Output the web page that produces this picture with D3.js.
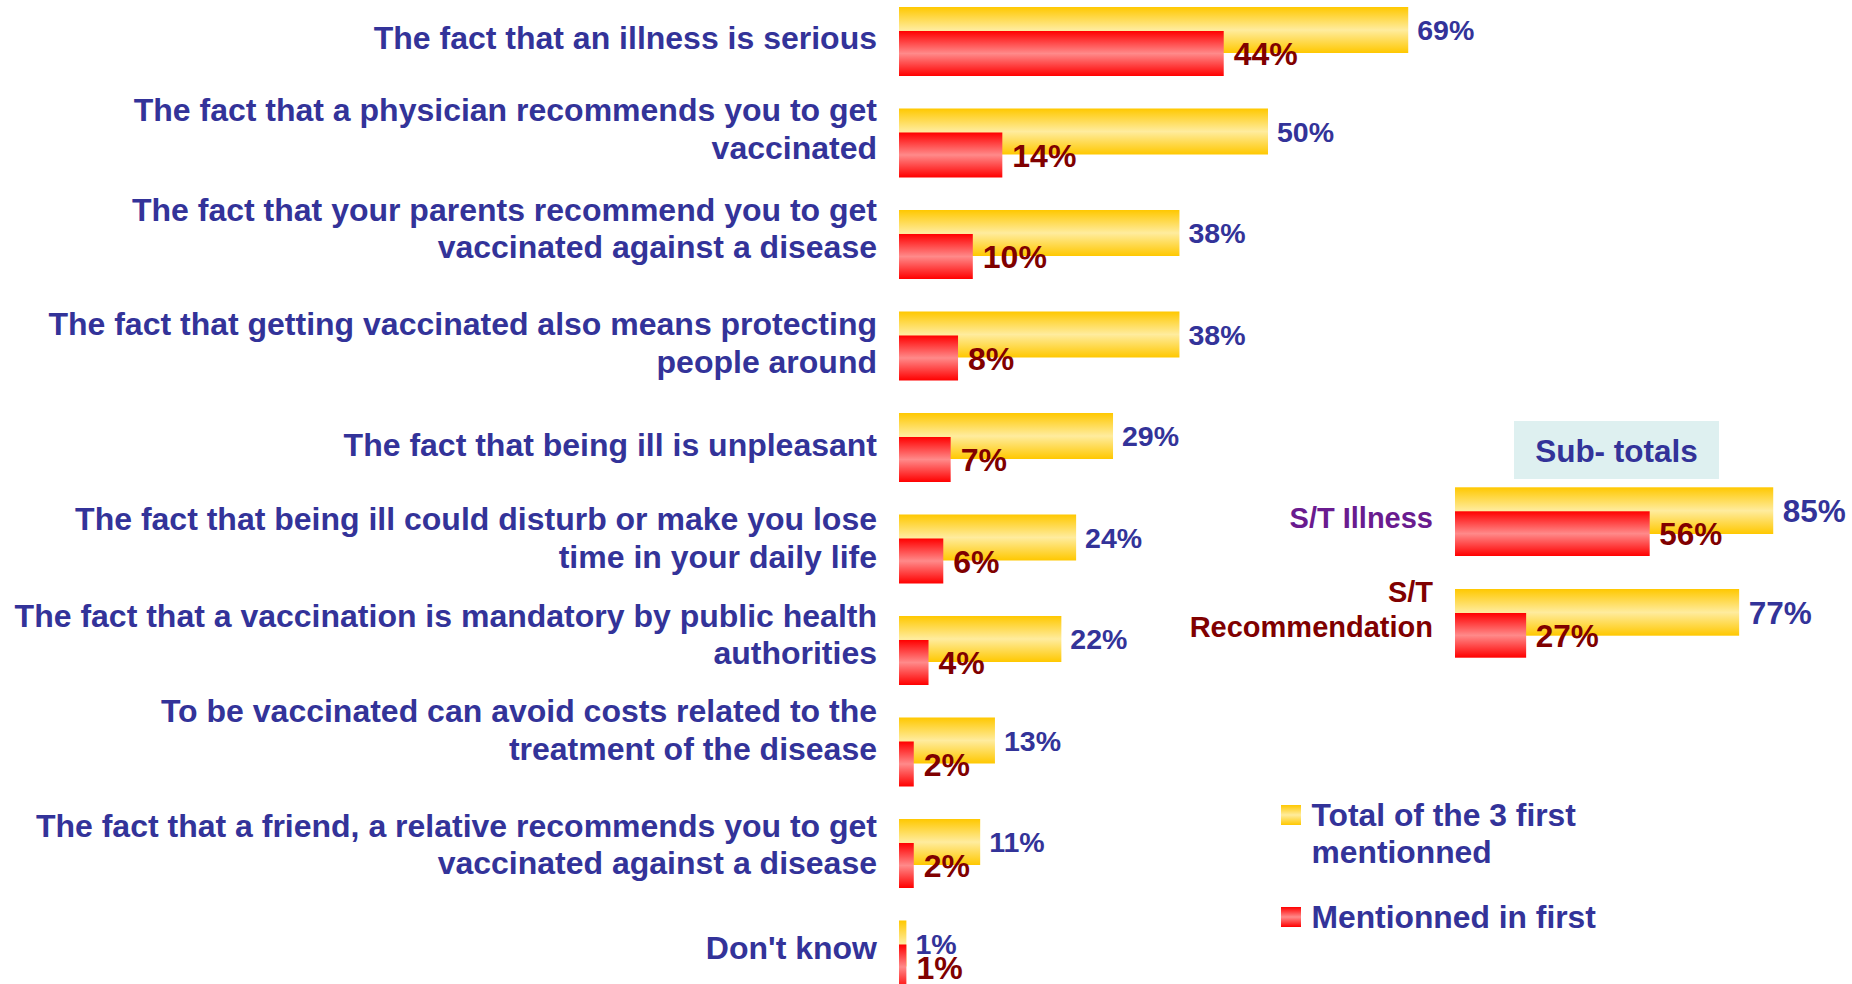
<!DOCTYPE html>
<html><head><meta charset="utf-8">
<script src="https://cdn.jsdelivr.net/npm/d3@7"></script>
<style>html,body{margin:0;padding:0;background:#fff;overflow:hidden}</style>
</head><body>
<svg id="chart" width="1852" height="984"></svg>
<script>
// ---------------- DATA ----------------
const categories = [
  "The fact that an illness is serious",
  "The fact that a physician recommends you to get vaccinated",
  "The fact that your parents recommend you to get vaccinated against a disease",
  "The fact that getting vaccinated also means protecting people around",
  "The fact that being ill is unpleasant",
  "The fact that being ill could disturb or make you lose time in your daily life",
  "The fact that a vaccination is mandatory by public health authorities",
  "To be vaccinated can avoid costs related to the treatment of the disease",
  "The fact that a friend, a relative recommends you to get vaccinated against a disease",
  "Don't know"
];
const categoryLines = [
  ["The fact that an illness is serious"],
  ["The fact that a physician recommends you to get", "vaccinated"],
  ["The fact that your parents recommend you to get", "vaccinated against a disease"],
  ["The fact that getting vaccinated also means protecting", "people around"],
  ["The fact that being ill is unpleasant"],
  ["The fact that being ill could disturb or make you lose", "time in your daily life"],
  ["The fact that a vaccination is mandatory by public health", "authorities"],
  ["To be vaccinated can avoid costs related to the", "treatment of the disease"],
  ["The fact that a friend, a relative recommends you to get", "vaccinated against a disease"],
  ["Don't know"]
];
const totalFirst3 = [69, 50, 38, 38, 29, 24, 22, 13, 11, 1];
const firstMention = [44, 14, 10, 8, 7, 6, 4, 2, 2, 1];

const subCategories = ["S/T Illness", "S/T Recommendation"];
const subCategoryLines = [["S/T Illness"], ["S/T", "Recommendation"]];
const subTotalFirst3 = [85, 77];
const subFirstMention = [56, 27];
const subTitle = "Sub- totals";

const seriesNames = ["Total of the 3 first mentionned", "Mentionned in first"];
const legendLines = [["Total of the 3 first", "mentionned"], ["Mentionned in first"]];

// ---------------- LAYOUT ----------------
const FONT = "'Liberation Sans', Arial, Helvetica, sans-serif";
const BLUE = "#333399", MAROON = "#800000", PURPLE = "#6A1B8F";
// baseline of first label line, relative to the top of the row's yellow bar
const labelOffset = [42, 12.7, 10.7, 23.3, 42.7, 15.7, 10.7, 4.3, 17.7, 38.7];
const subLabelOffset = [40.4, 12.7];
const LINE_H = 37.7;

const svg = d3.select("#chart");
const defs = svg.append("defs");
function grad(id, edge, mid) {
  const g = defs.append("linearGradient").attr("id", id)
    .attr("x1", 0).attr("y1", 0).attr("x2", 0).attr("y2", 1);
  g.append("stop").attr("offset", "0%").attr("stop-color", edge);
  g.append("stop").attr("offset", "50%").attr("stop-color", mid);
  g.append("stop").attr("offset", "100%").attr("stop-color", edge);
}
grad("gYellow", "#FFC800", "#FFEC9E");
grad("gRed", "#FF0000", "#FF8A8A");

const YEL_H = 46, RED_OFF = 24, RED_H = 45;

// ---------- main chart ----------
const x = d3.scaleLinear().domain([0, 100]).range([899, 1637]);
const y = d3.scaleBand().domain(d3.range(categories.length)).range([7, 7 + 101.5 * categories.length]);

const main = svg.append("g");

main.selectAll("rect.tot").data(totalFirst3).join("rect").attr("class", "tot")
  .attr("x", x(0)).attr("y", (d, i) => y(i))
  .attr("width", d => x(d) - x(0)).attr("height", YEL_H)
  .attr("fill", "url(#gYellow)");
main.selectAll("rect.first").data(firstMention).join("rect").attr("class", "first")
  .attr("x", x(0)).attr("y", (d, i) => y(i) + RED_OFF)
  .attr("width", d => x(d) - x(0)).attr("height", RED_H)
  .attr("fill", "url(#gRed)");

main.selectAll("text.totLab").data(totalFirst3).join("text").attr("class", "totLab")
  .attr("x", d => x(d) + 9).attr("y", (d, i) => y(i) + YEL_H / 2).attr("dy", "0.36em")
  .attr("font-family", FONT).attr("font-weight", "bold").attr("font-size", 28.5)
  .attr("fill", BLUE).text(d => d + "%");
main.selectAll("text.firstLab").data(firstMention).join("text").attr("class", "firstLab")
  .attr("x", d => x(d) + 10).attr("y", (d, i) => y(i) + RED_OFF + RED_H / 2).attr("dy", "0.36em")
  .attr("font-family", FONT).attr("font-weight", "bold").attr("font-size", 32)
  .attr("fill", MAROON).text(d => d + "%");

main.selectAll("text.cat").data(categoryLines).join("text").attr("class", "cat")
  .attr("font-family", FONT).attr("font-weight", "bold").attr("font-size", 32)
  .attr("fill", BLUE).attr("text-anchor", "end")
  .each(function (lines, i) {
    const t = d3.select(this);
    lines.forEach((ln, k) => {
      t.append("tspan").attr("x", 877).attr("y", y(i) + labelOffset[i] + k * LINE_H).text(ln);
    });
  });

// ---------- sub-totals ----------
const xs = d3.scaleLinear().domain([10.3, 100]).range([1455, 1455 + 89.7 * 4.26]);
const ys = d3.scaleBand().domain(d3.range(subCategories.length)).range([487.3, 487.3 + 101.7 * subCategories.length]);
const sub = svg.append("g");

sub.append("rect").attr("x", 1514).attr("y", 421).attr("width", 205).attr("height", 58)
  .attr("fill", "#DEF0F0");
sub.append("text").attr("x", 1616.5).attr("y", 461.7).attr("text-anchor", "middle")
  .attr("font-family", FONT).attr("font-weight", "bold").attr("font-size", 31.5)
  .attr("fill", BLUE).text(subTitle);

sub.selectAll("rect.tot").data(subTotalFirst3).join("rect").attr("class", "tot")
  .attr("x", xs(10.3)).attr("y", (d, i) => ys(i))
  .attr("width", d => xs(d) - xs(10.3)).attr("height", 46.7).attr("fill", "url(#gYellow)");
sub.selectAll("rect.first").data(subFirstMention).join("rect").attr("class", "first")
  .attr("x", xs(10.3)).attr("y", (d, i) => ys(i) + RED_OFF)
  .attr("width", d => xs(d) - xs(10.3)).attr("height", RED_H - 0.3).attr("fill", "url(#gRed)");
sub.selectAll("text.totLab").data(subTotalFirst3).join("text").attr("class", "totLab")
  .attr("x", d => xs(d) + 9.5).attr("y", (d, i) => ys(i) + 23.5).attr("dy", "0.36em")
  .attr("font-family", FONT).attr("font-weight", "bold").attr("font-size", 31.5)
  .attr("fill", BLUE).text(d => d + "%");
sub.selectAll("text.firstLab").data(subFirstMention).join("text").attr("class", "firstLab")
  .attr("x", d => xs(d) + 9.5).attr("y", (d, i) => ys(i) + RED_OFF + 22.5).attr("dy", "0.36em")
  .attr("font-family", FONT).attr("font-weight", "bold").attr("font-size", 31.5)
  .attr("fill", MAROON).text(d => d + "%");
sub.selectAll("text.cat").data(subCategoryLines).join("text").attr("class", "cat")
  .attr("font-family", FONT).attr("font-weight", "bold").attr("font-size", 29)
  .attr("fill", (d, i) => i === 0 ? PURPLE : MAROON).attr("text-anchor", "end")
  .each(function (lines, i) {
    const t = d3.select(this);
    lines.forEach((ln, k) => {
      t.append("tspan").attr("x", 1433).attr("y", ys(i) + subLabelOffset[i] + k * 35.6).text(ln);
    });
  });

// ---------- legend ----------
const legY = d3.scalePoint().domain(seriesNames).range([805, 907]);
const leg = svg.append("g");
leg.selectAll("rect").data(seriesNames).join("rect")
  .attr("x", 1281).attr("y", d => legY(d)).attr("width", 20).attr("height", 20)
  .attr("fill", (d, i) => i === 0 ? "url(#gYellow)" : "url(#gRed)");
leg.selectAll("text").data(legendLines).join("text")
  .attr("font-family", FONT).attr("font-weight", "bold").attr("font-size", 31.8)
  .attr("fill", BLUE)
  .each(function (lines, i) {
    const t = d3.select(this);
    lines.forEach((ln, k) => {
      t.append("tspan").attr("x", 1311.5).attr("y", legY(seriesNames[i]) + 21 + k * 37.3).text(ln);
    });
  });
</script>
</body></html>
